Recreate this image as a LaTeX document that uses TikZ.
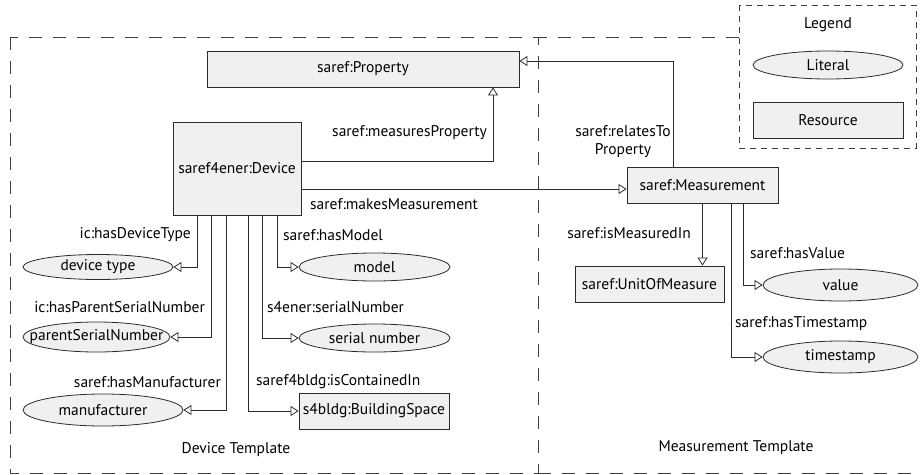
\documentclass[tikz,border=0pt]{standalone}
\usepackage{fontspec}
\setmainfont{PT Sans}
\usetikzlibrary{arrows.meta,shapes.geometric}
\definecolor{boxfill}{HTML}{F0F0F0}
\definecolor{linecol}{HTML}{2B2B2B}

\begin{document}
\begin{tikzpicture}[x=1pt,y=-1pt,font=\fontsize{15.5}{18}\selectfont,
    resource/.style={draw=linecol,fill=boxfill,line width=0.8pt,inner sep=0pt},
    literal/.style={ellipse,draw=linecol,fill=boxfill,line width=0.8pt,inner sep=0pt,
      minimum width=152pt,minimum height=28pt},
    rel/.style={draw=linecol,line width=0.8pt,-{Triangle[open,length=8pt,width=10pt]}},
    template/.style={draw=black!75,line width=0.8pt,dash pattern=on 13pt off 11pt},
    lbl/.style={inner sep=0pt}]
    \useasboundingbox (0,0) rectangle (923,474);
    % templates and legend
    \draw[template] (10,37) rectangle (538,473);
    \draw[template] (739,37) -- (538,37);
    \draw[template] (538,473) -- (916,473);
    \draw[template,dash pattern=on 6pt off 5pt] (739,5) rectangle (916,148);
    \node[lbl] (devtpl) at (236,450) {Device Template};
    \node[lbl] (meastpl) at (736,448) {Measurement Template};
    \node[lbl] (legend) at (828,25) {Legend};
    \node[literal,minimum width=150pt] (literal) at (828,65) {Literal};
    \node[resource,minimum width=150pt,minimum height=36pt] (resource) at (828,120) {Resource};

    % resources
    \node[resource,minimum width=312pt,minimum height=36pt] (prop) at (363,69) {saref:Property};
    \node[resource,minimum width=128pt,minimum height=93pt] (dev) at (237,168.5) {saref4ener:Device};
    \node[resource,minimum width=151pt,minimum height=36pt] (meas) at (702.5,185) {saref:Measurement};
    \node[resource,minimum width=149pt,minimum height=36pt] (unit) at (649.5,284) {saref:UnitOfMeasure};
    \node[resource,minimum width=150pt,minimum height=36pt] (bldg) at (374,411) {s4bldg:BuildingSpace};

    % literals
    \node[literal,minimum width=150pt,minimum height=25pt] (dtype) at (98,267) {device type};
    \node[literal,minimum width=147pt,minimum height=30pt] (pserial) at (96.5,337) {\makebox[0pt]{parentSerialNumber}};
    \node[literal,minimum width=160pt,minimum height=32pt] (manuf) at (103,410) {manufacturer};
    \node[literal,minimum width=151pt] (model) at (374.5,267) {model};
    \node[literal,minimum width=151pt] (serial) at (374.5,338) {serial number};
    \node[literal,minimum width=155pt,minimum height=32pt] (value) at (840.5,285) {value};
    \node[literal,minimum width=155pt,minimum height=32pt] (tstamp) at (840.5,357) {timestamp};

    % device relations
    \draw[rel] ([yshift=7.5pt]dev.east) -| ([xshift=130pt]prop.south);
    \draw[rel] ([yshift=-20.5pt]dev.east) -- ([yshift=-4pt]meas.west);
    \foreach \dx/\target in {-40/dtype,-26/pserial,-11/manuf}{
        \draw[rel] ([xshift=\dx pt]dev.south) |- (\target.east);
     }
    \foreach \dx/\target in {11/bldg,25/serial,40/model}{
        \draw[rel] ([xshift=\dx pt]dev.south) |- (\target.west);
     }
    \node[lbl,anchor=east] (lmeasures) at (487,133) {saref:measuresProperty};
    \node[lbl,anchor=west] (lmakes) at (310,204) {saref:makesMeasurement};
    \node[lbl,anchor=east] (ldtype) at (191,235) {ic:hasDeviceType};
    \node[lbl,anchor=east] (lpserial) at (205,307) {ic:hasParentSerialNumber};
    \node[lbl,anchor=east] (lmanuf) at (221,382) {saref:hasManufacturer};
    \node[lbl,anchor=west] (lmodel) at (283,235) {saref:hasModel};
    \node[lbl,anchor=west] (lserial) at (267,307) {s4ener:serialNumber};
    \node[lbl,anchor=west] (lbldg) at (256,382) {saref4bldg:isContainedIn};

    % measurement relations
    \draw[rel] ([xshift=-29.5pt]meas.north) |- ([yshift=8pt]prop.east);
    \draw[rel] (meas.south) -- (meas.south |- unit.north);
    \draw[rel] ([xshift=40.5pt]meas.south) |- (value.west);
    \draw[rel] ([xshift=28.5pt]meas.south) |- (tstamp.west);
    \node[lbl,align=center] (lrelates) at (623,142) {saref:relatesTo\\Property};
    \node[lbl,anchor=east] (lunit) at (691,233) {saref:isMeasuredIn};
    \node[lbl,anchor=west] (lvalue) at (750,253) {saref:hasValue};
    \node[lbl,anchor=west] (ltstamp) at (735,324) {saref:hasTimestamp};
  \end{tikzpicture}
\end{document}
